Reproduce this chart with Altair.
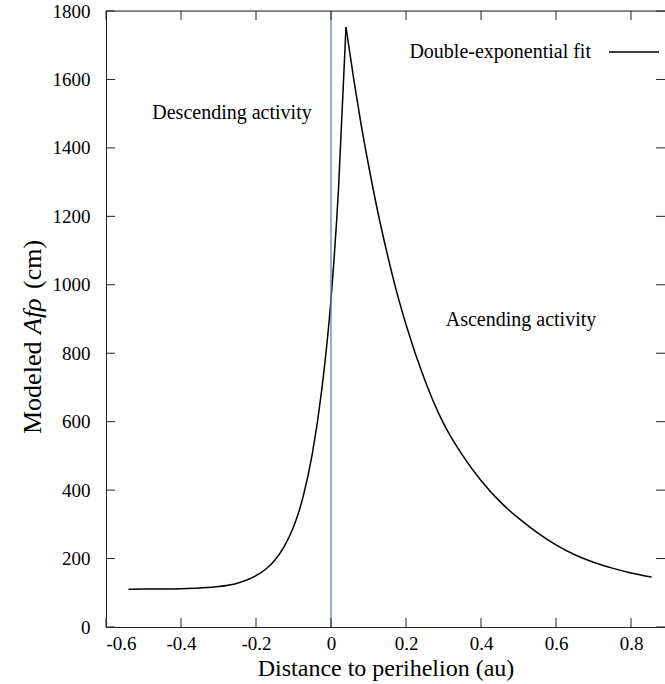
import altair as alt
import pandas as pd

# ---- data ----
x_left = [-0.54, -0.5, -0.45, -0.4, -0.35, -0.3, -0.25, -0.2, -0.175, -0.15, -0.125,
          -0.1, -0.075, -0.05, -0.025, 0.0, 0.02, 0.04]
y_left = [110, 111, 111, 112, 114, 118, 128, 150, 168, 195, 235,
          292, 378, 505, 690, 957, 1280, 1753]
x_right = [0.04, 0.06, 0.08, 0.1, 0.125, 0.15, 0.175, 0.2, 0.25, 0.3, 0.35, 0.4,
           0.45, 0.5, 0.55, 0.6, 0.65, 0.7, 0.75, 0.8, 0.855]
y_right = [1753, 1605, 1470, 1350, 1212, 1090, 980, 884, 722, 595, 503, 428,
           367, 318, 276, 240, 211, 189, 172, 158, 146]
x_ticks = [-0.6, -0.4, -0.2, 0.0, 0.2, 0.4, 0.6, 0.8]
y_ticks = [0, 200, 400, 600, 800, 1000, 1200, 1400, 1600, 1800]
perihelion = [0.0]

curve = pd.DataFrame({
    "x": x_left + x_right,
    "y": y_left + y_right,
    "branch": ["descending"] * len(x_left) + ["ascending"] * len(x_right),
})
xt = pd.DataFrame({"v": x_ticks})
yt = pd.DataFrame({"v": y_ticks})
vl = pd.DataFrame({"v": perihelion})

W, H = 559, 616
FONT = "Liberation Serif"
xs = alt.Scale(domain=[-0.6, -0.6 + W / 375.0], nice=False, zero=False)
ys = alt.Scale(domain=[0, 1800], nice=False)

xlab = ("datum.value == 0 ? '0' : (datum.value < 0 ? '-' + format(-datum.value, '.1f')"
        " : format(datum.value, '.1f'))")

x_axis = alt.Axis(values=x_ticks, labelExpr=xlab, tickSize=0, grid=False,
                  title="Distance to perihelion (au)", labelPadding=7,
                  titlePadding=3, titleFontSize=24, titleFontWeight="normal",
                  labelFontSize=19, labelFont=FONT, titleFont=FONT,
                  labelColor="black", titleColor="black",
                  domainColor="#222", domainWidth=1)
y_axis = alt.Axis(values=y_ticks, format="d", tickSize=0, grid=False, title=None,
                  labelPadding=16, labelFontSize=19, labelFont=FONT,
                  labelColor="black", domainColor="#222", domainWidth=1)

line = alt.Chart(curve).mark_line(color="black", strokeWidth=1.5, interpolate="monotone").encode(
    x=alt.X("x:Q", scale=xs, axis=x_axis),
    y=alt.Y("y:Q", scale=ys, axis=y_axis),
    detail="branch:N",
)

vline = alt.Chart(vl).mark_rule(color="#5f83a6", strokeWidth=1.3).encode(
    x=alt.X("v:Q", scale=xs, axis=x_axis)
)

top_border = alt.Chart(vl).mark_rule(color="#222", strokeWidth=1).encode(
    x=alt.value(0), x2=alt.value(W), y=alt.value(0)
)

tick_col = "#222"
lt = alt.Chart(yt).mark_rule(color=tick_col).encode(
    y=alt.Y("v:Q", scale=ys, axis=y_axis), x=alt.value(0), x2=alt.value(9))
rt = alt.Chart(yt).mark_rule(color=tick_col).encode(
    y=alt.Y("v:Q", scale=ys, axis=y_axis), x=alt.value(W - 9), x2=alt.value(W))
bt = alt.Chart(xt).mark_rule(color=tick_col).encode(
    x=alt.X("v:Q", scale=xs, axis=x_axis), y=alt.value(H - 9), y2=alt.value(H))
tt = alt.Chart(xt).mark_rule(color=tick_col).encode(
    x=alt.X("v:Q", scale=xs, axis=x_axis), y=alt.value(0), y2=alt.value(9))

def label(txt, x, y, align="center", angle=0, style="normal", size=20):
    return alt.Chart(vl).mark_text(text=txt, font=FONT, fontSize=size, color="black",
                                   align=align, baseline="middle", angle=angle,
                                   fontStyle=style).encode(x=alt.value(x), y=alt.value(y))

desc = label("Descending activity", 126, 102)
asc = label("Ascending activity", 415, 309)
leg_text = label("Double-exponential fit", 485, 41, align="right")
leg_line = alt.Chart(vl).mark_rule(color="black", strokeWidth=1.5).encode(
    x=alt.value(503), x2=alt.value(553), y=alt.value(41))

# y-axis title built from pieces (italic symbol)
Y0 = 434 - 11
yt1 = label("Modeled", -73, Y0, angle=270, size=26, align="left")
yt2 = label("Afρ", -73, Y0 - 100, angle=270, size=26, align="left", style="italic")
yt3 = label("(cm)", -73, Y0 - 100 - 45, angle=270, size=26, align="left")

chart = alt.layer(
    line, vline, top_border, lt, rt, bt, tt, desc, asc, leg_text, leg_line, yt1, yt2, yt3
).properties(
    width=W, height=H,
    autosize=alt.AutoSizeParams(type="none"),
    padding={"left": 106, "top": 11, "right": 0, "bottom": 57},
).configure_view(stroke=None).configure(
    background="white", font=FONT
).configure_axis(labelFont=FONT, titleFont=FONT).configure_text(font=FONT)

chart.save("out.html", embed_options={"renderer": "svg", "actions": False})
